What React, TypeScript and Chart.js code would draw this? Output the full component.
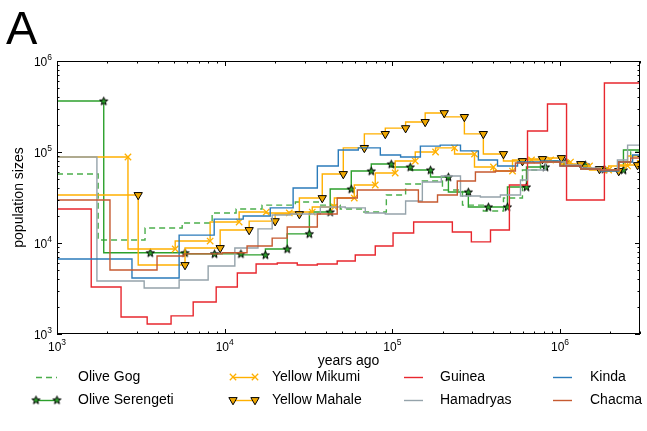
import { useEffect, useRef } from 'react';
import { Chart, registerables } from 'chart.js';
Chart.register(...registerables);

// Each series: right end (years ago) of every step, and the population size of that step
const oliveGogYears = [1000, 1760, 3350, 5580, 8420, 11700, 16700, 26400, 36200, 48900, 66200, 92100, 120000, 151000, 199000, 262000, 349000, 460000, 597000, 765000, 1007000, 1330000, 1740000, 2240000, 2640000, 3000000];
const oliveGogSizes = [57300, 57300, 10800, 14600, 16600, 21400, 23600, 26100, 28200, 26100, 23600, 21900, 33700, 44500, 48000, 38200, 26100, 22500, 31200, 63400, 79600, 71900, 66700, 63400, 77600, 100000];

const oliveSerengetiYears = [1000, 1900, 3600, 5800, 8700, 12500, 17500, 23600, 32000, 42600, 56900, 74900, 98600, 128000, 169000, 216000, 284000, 374000, 486000, 631000, 819000, 1080000, 1420000, 1840000, 2390000, 3000000];
const oliveSerengetiSizes = [363000, 363000, 7800, 7800, 7600, 7600, 7400, 8600, 12600, 21900, 39200, 61800, 73800, 68400, 63400, 53100, 36300, 24900, 24900, 41200, 68400, 77600, 71900, 65000, 63400, 105000];

const yellowMikumiYears = [1000, 2650, 5070, 8190, 12200, 17700, 24300, 33300, 45100, 59300, 79100, 104000, 137000, 181000, 235000, 309000, 401000, 521000, 676000, 878000, 1155000, 1500000, 1950000, 2530000, 3000000];
const yellowMikumiSizes = [88100, 88100, 8590, 10500, 17000, 21900, 21400, 21900, 24900, 31200, 43400, 58800, 79600, 100000, 111000, 95100, 68400, 61800, 81700, 81700, 77600, 70200, 63400, 70200, 90300];

const yellowMahaleYears = [1000, 3050, 5800, 9400, 14000, 20000, 27900, 38200, 51000, 68100, 90800, 120000, 157000, 204000, 269000, 349000, 460000, 597000, 786000, 1020000, 1330000, 1720000, 2240000, 2900000, 3000000];
const yellowMahaleSizes = [33700, 33700, 5730, 8810, 13900, 17400, 20800, 31200, 57300, 111000, 158000, 183000, 214000, 268000, 243000, 158000, 95100, 79600, 83800, 85900, 73800, 65000, 61800, 71900, 80000];

const guineaYears = [1000, 1600, 2410, 3450, 4790, 6490, 8900, 11900, 15400, 20600, 27100, 35700, 46900, 60100, 79100, 101000, 134000, 173000, 228000, 296000, 385000, 499000, 640000, 842000, 1094000, 1840000, 3000000];
const guineaSizes = [3000000, 23600, 3290, 1540, 1290, 1580, 2250, 3290, 4680, 5880, 6030, 5730, 5880, 6340, 7380, 9270, 12900, 17000, 17000, 13200, 10300, 13900, 43400, 170000, 337000, 29700, 573000];

const hamadryasYears = [1000, 1730, 3310, 5350, 7970, 11500, 15800, 19200, 24600, 37200, 52400, 69000, 90800, 120000, 151000, 196000, 255000, 335000, 441000, 581000, 640000, 819000, 1080000, 1330000, 1740000, 2200000, 2530000, 3000000];
const hamadryasSizes = [88100, 88100, 3820, 3200, 3920, 5590, 8810, 14300, 20300, 20800, 24900, 24300, 21400, 20800, 28900, 46800, 54500, 32900, 32000, 33700, 49200, 63400, 77600, 71900, 66700, 63400, 81700, 119000];

const kindaYears = [1000, 2800, 5350, 8660, 12900, 18700, 25600, 35700, 47600, 62700, 84800, 112000, 147000, 193000, 255000, 326000, 424000, 558000, 765000, 1000000, 1330000, 1740000, 2240000, 2710000, 3000000];
const kindaSizes = [6670, 6670, 4130, 12200, 18300, 19800, 24300, 40200, 70200, 105000, 111000, 92700, 88100, 116000, 119000, 103000, 81700, 70200, 77600, 79600, 70200, 65000, 61800, 77600, 92700];

const chacmaYears = [1000, 2070, 3950, 5730, 9660, 13600, 19200, 23600, 35700, 46900, 61800, 143000, 186000, 244000, 313000, 412000, 542000, 765000, 1000000, 1330000, 1740000, 2240000, 2640000, 3000000];
const chacmaSizes = [29700, 29700, 5050, 7200, 7600, 7800, 9270, 11300, 15000, 20800, 31200, 38200, 28200, 33700, 48000, 60300, 61800, 75700, 77600, 70200, 65000, 63400, 77600, 85900];

const xTickExponents = [3, 4, 5, 6];
const yTickExponents = [3, 4, 5, 6];

const FONT = '"Liberation Sans", Arial, Helvetica, sans-serif';

const GREEN = '#2ca02c';
const YELLOW = '#ffb000';
const MARKER_YELLOW = '#f0a800';
const RED = '#e8272e';
const GREY = '#95a3ab';
const BLUE = '#2b7bba';
const BROWN = '#c65a30';

function makeStar(): HTMLCanvasElement {
  const c = document.createElement('canvas');
  c.width = 11;
  c.height = 11;
  const g = c.getContext('2d')!;
  const cx = 5.5, cy = 5.8, ro = 4.3, ri = 1.8;
  g.beginPath();
  for (let i = 0; i < 10; i++) {
    const r = i % 2 === 0 ? ro : ri;
    const a = -Math.PI / 2 + (i * Math.PI) / 5;
    const x = cx + r * Math.cos(a);
    const y = cy + r * Math.sin(a);
    if (i === 0) g.moveTo(x, y); else g.lineTo(x, y);
  }
  g.closePath();
  g.fillStyle = GREEN;
  g.fill();
  g.lineWidth = 1;
  g.strokeStyle = '#000';
  g.stroke();
  return c;
}

function pts(xs: number[], ys: number[]) {
  return xs.map((x, i) => ({ x, y: ys[i] }));
}

export default function App() {
  const ref = useRef<HTMLCanvasElement | null>(null);

  useEffect(() => {
    const canvas = ref.current!;
    const star = makeStar();
    const markerRadius = (n: number, r: number, hideLast: boolean) => (ctx: any) =>
      ctx.dataIndex === 0 || (hideLast && ctx.dataIndex === n - 1) ? 0 : r;

    const base = { stepped: 'after' as const, borderWidth: 1.4, fill: false, pointHoverRadius: 0 };

    const datasets: any[] = [
      { ...base, label: 'Olive Gog', data: pts(oliveGogYears, oliveGogSizes), borderColor: 'rgba(44,160,44,0.85)', borderDash: [6, 4], pointRadius: 0, order: 8 },
      { ...base, label: 'Olive Serengeti', data: pts(oliveSerengetiYears, oliveSerengetiSizes), borderColor: GREEN, pointStyle: star, pointRadius: markerRadius(oliveSerengetiYears.length, 4, true), order: 7 },
      { ...base, label: 'Yellow Mikumi', data: pts(yellowMikumiYears, yellowMikumiSizes), borderColor: YELLOW, pointStyle: 'crossRot', pointBorderColor: YELLOW, pointBorderWidth: 1.3, pointRadius: markerRadius(yellowMikumiYears.length, 4.5, true), order: 6 },
      { ...base, label: 'Yellow Mahale', data: pts(yellowMahaleYears, yellowMahaleSizes), borderColor: YELLOW, pointStyle: 'triangle', rotation: 180, pointBackgroundColor: MARKER_YELLOW, pointBorderColor: '#000', pointBorderWidth: 1, pointRadius: markerRadius(yellowMahaleYears.length, 4.8, true), order: 5 },
      { ...base, label: 'Guinea', data: pts(guineaYears, guineaSizes), borderColor: RED, pointRadius: 0, order: 4 },
      { ...base, label: 'Hamadryas', data: pts(hamadryasYears, hamadryasSizes), borderColor: GREY, pointRadius: 0, order: 3 },
      { ...base, label: 'Kinda', data: pts(kindaYears, kindaSizes), borderColor: BLUE, pointRadius: 0, order: 2 },
      { ...base, label: 'Chacma', data: pts(chacmaYears, chacmaSizes), borderColor: BROWN, pointRadius: 0, order: 1 },
    ];

    const legendItems = [
      { label: 'Olive Gog', col: 0, row: 0, color: 'rgba(44,160,44,0.85)', dash: [6, 4], marker: 'none' },
      { label: 'Olive Serengeti', col: 0, row: 1, color: GREEN, dash: [], marker: 'star' },
      { label: 'Yellow Mikumi', col: 1, row: 0, color: YELLOW, dash: [], marker: 'x' },
      { label: 'Yellow Mahale', col: 1, row: 1, color: YELLOW, dash: [], marker: 'tri' },
      { label: 'Guinea', col: 2, row: 0, color: RED, dash: [], marker: 'none' },
      { label: 'Hamadryas', col: 2, row: 1, color: GREY, dash: [], marker: 'none' },
      { label: 'Kinda', col: 3, row: 0, color: BLUE, dash: [], marker: 'none' },
      { label: 'Chacma', col: 3, row: 1, color: BROWN, dash: [], marker: 'none' },
    ];
    const legendCols = [
      { x1: 36, x2: 57, tx: 78 },
      { x1: 233, x2: 255, tx: 272 },
      { x1: 404, x2: 423, tx: 440 },
      { x1: 553, x2: 572, tx: 590 },
    ];
    const legendRows = [377, 400];

    const drawTri = (g: CanvasRenderingContext2D, x: number, y: number, r: number) => {
      g.beginPath();
      g.moveTo(x, y + r);
      g.lineTo(x - r * 0.866, y - r * 0.5);
      g.lineTo(x + r * 0.866, y - r * 0.5);
      g.closePath();
      g.fillStyle = MARKER_YELLOW;
      g.fill();
      g.strokeStyle = '#000';
      g.lineWidth = 1;
      g.stroke();
    };
    const drawX = (g: CanvasRenderingContext2D, x: number, y: number, r: number) => {
      const d = r * 0.707;
      g.beginPath();
      g.moveTo(x - d, y - d); g.lineTo(x + d, y + d);
      g.moveTo(x - d, y + d); g.lineTo(x + d, y - d);
      g.strokeStyle = YELLOW;
      g.lineWidth = 1.3;
      g.stroke();
    };

    const decor = {
      id: 'decor',
      afterDraw(chart: any) {
        const g: CanvasRenderingContext2D = chart.ctx;
        const { left, right, top, bottom } = chart.chartArea;
        const xs = chart.scales.x, ys = chart.scales.y;
        g.save();
        // frame
        g.strokeStyle = '#000';
        g.lineWidth = 1;
        g.setLineDash([]);
        g.strokeRect(left + 0.5, top + 0.5, right - left - 1, bottom - top - 1);
        // ticks (inward, all four sides)
        g.beginPath();
        for (let d = 3; d <= 6; d++) {
          for (let m = 1; m <= 9; m++) {
            const v = m * Math.pow(10, d);
            if (v > 3000000) break;
            const px = Math.round(xs.getPixelForValue(v)) + 0.5;
            const len = m === 1 ? 5 : 2.5;
            g.moveTo(px, bottom); g.lineTo(px, bottom - len);
            g.moveTo(px, top); g.lineTo(px, top + len);
          }
        }
        for (let d = 3; d <= 6; d++) {
          for (let m = 1; m <= 9; m++) {
            const v = m * Math.pow(10, d);
            if (v > 1000000) break;
            const py = Math.round(ys.getPixelForValue(v)) + 0.5;
            const len = m === 1 ? 5 : 2.5;
            g.moveTo(left, py); g.lineTo(left + len, py);
            g.moveTo(right, py); g.lineTo(right - len, py);
          }
        }
        g.stroke();

        g.fillStyle = '#000';
        const big = `12px ${FONT}`;
        const small = `8.5px ${FONT}`;
        // x tick labels
        for (const e of xTickExponents) {
          const px = xs.getPixelForValue(Math.pow(10, e));
          g.font = big;
          const w1 = g.measureText('10').width;
          g.font = small;
          const w2 = g.measureText(String(e)).width;
          const x0 = px - (w1 + w2) / 2;
          g.textBaseline = 'alphabetic';
          g.textAlign = 'left';
          g.font = big;
          g.fillText('10', x0, 351);
          g.font = small;
          g.fillText(String(e), x0 + w1, 345);
        }
        // y tick labels
        for (const e of yTickExponents) {
          const py = ys.getPixelForValue(Math.pow(10, e));
          g.font = small;
          const w2 = g.measureText(String(e)).width;
          g.font = big;
          const w1 = g.measureText('10').width;
          const xr = left - 5;
          g.textAlign = 'left';
          g.font = big;
          g.fillText('10', xr - w2 - w1, py + 4.5);
          g.font = small;
          g.fillText(String(e), xr - w2, py - 1.5);
        }
        // axis titles
        g.font = `14px ${FONT}`;
        g.textAlign = 'center';
        g.textBaseline = 'middle';
        g.fillText('years ago', (left + right) / 2, 361);
        g.save();
        g.translate(19, (top + bottom) / 2);
        g.rotate(-Math.PI / 2);
        g.fillText('population sizes', 0, 0);
        g.restore();
        // panel letter
        g.font = `47px ${FONT}`;
        g.textAlign = 'left';
        g.textBaseline = 'alphabetic';
        g.fillText('A', 6, 44);
        // legend
        for (const it of legendItems) {
          const c = legendCols[it.col];
          const y = legendRows[it.row];
          g.beginPath();
          g.setLineDash(it.dash);
          g.strokeStyle = it.color;
          g.lineWidth = 1.4;
          g.moveTo(c.x1, y + 0.5);
          g.lineTo(c.x2, y + 0.5);
          g.stroke();
          g.setLineDash([]);
          if (it.marker === 'star') {
            g.drawImage(star, c.x1 - 5.5, y - 5.5);
            g.drawImage(star, c.x2 - 5.5, y - 5.5);
          } else if (it.marker === 'x') {
            drawX(g, c.x1, y, 4.5);
            drawX(g, c.x2, y, 4.5);
          } else if (it.marker === 'tri') {
            drawTri(g, c.x1, y, 4.8);
            drawTri(g, c.x2, y, 4.8);
          }
          g.fillStyle = '#000';
          g.font = `14px ${FONT}`;
          g.textAlign = 'left';
          g.textBaseline = 'middle';
          g.fillText(it.label, c.tx, y + 0.5);
        }
        g.restore();
      },
    };

    const chart = new Chart(canvas, {
      type: 'line',
      data: { datasets },
      options: {
        animation: false,
        responsive: false,
        maintainAspectRatio: false,
        devicePixelRatio: 1,
        layout: { padding: { left: 57, right: 7, top: 61, bottom: 97 } },
        plugins: { legend: { display: false }, tooltip: { enabled: false } },
        events: [],
        scales: {
          x: { type: 'logarithmic', min: 1000, max: 3000000, display: false },
          y: { type: 'logarithmic', min: 1000, max: 1000000, display: false },
        },
      },
      plugins: [decor],
    });
    return () => chart.destroy();
  }, []);

  return (
    <div style={{ position: 'fixed', left: 0, top: 0, width: 647, height: 431, background: '#fff' }}>
      <canvas ref={ref} width={647} height={431} style={{ display: 'block' }} />
    </div>
  );
}
